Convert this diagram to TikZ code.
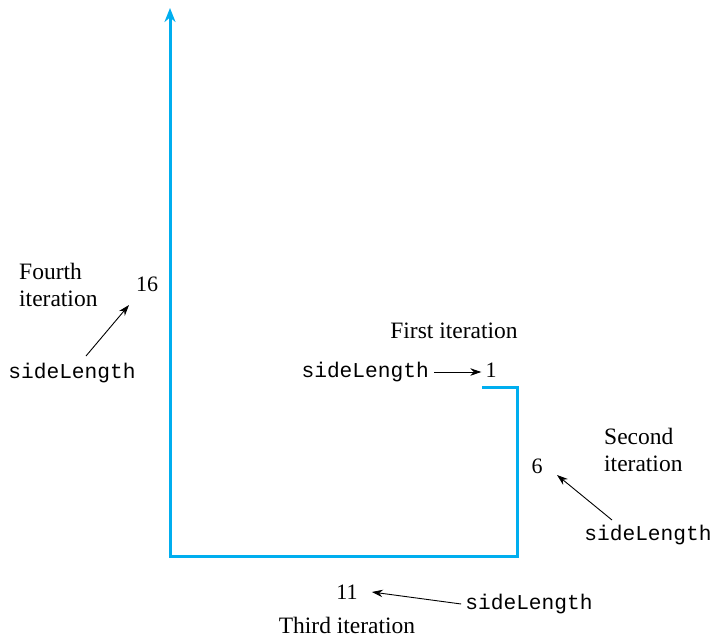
\documentclass[tikz,border=0pt]{standalone}
\usepackage{fontspec}
\setmainfont{Liberation Serif}
\setmonofont{Liberation Mono}
\usetikzlibrary{arrows.meta}
\definecolor{spiralblue}{RGB}{0,174,239}
\begin{document}
\begin{tikzpicture}[x=1pt,y=-1pt,
  lbl/.style={font=\fontsize{23.5}{27}\selectfont, inner sep=0pt},
  num/.style={font=\fontsize{22}{26}\selectfont, inner sep=0pt},
  var/.style={font=\fontsize{21.2}{25}\selectfont\ttfamily, inner sep=0pt},
  pointer/.style={-{Stealth[length=11pt,width=7.5pt]}, line width=0.9pt, black},
  spiral/.style={spiralblue, line width=3pt}
]
\useasboundingbox (0,0) rectangle (715,638);

% growing spiral path
\coordinate (s0) at (482,387);
\coordinate (s1) at (517,387);
\coordinate (s2) at (517,556);
\coordinate (s3) at (170,556);
\coordinate (s4) at (170,8);
\draw[spiral, -{Stealth[length=14pt,width=11pt]}] (s0) -- (s1) -- (s2) -- (s3) -- (s4);

% first iteration
\node[lbl] (t1) at (454,331) {First iteration};
\node[num] (n1) at (491,370) {1};
\node[var, anchor=east] (v1) at (429,372) {sideLength};
\coordinate (v1s) at ([xshift=5pt]v1.east);
\coordinate (n1w) at ([xshift=-4pt]v1s -| n1.west);
\draw[pointer] (v1s) -- (n1w);

% second iteration
\node[lbl, align=left, anchor=west] (t2) at (604,450) {Second\\iteration};
\node[num] (n2) at (537,466) {6};
\node[var] (v2) at (648,535) {sideLength};
\coordinate (v2s) at (612,520);
\coordinate (n2e) at (557,475);
\draw[pointer] (v2s) -- (n2e);

% third iteration
\node[num] (n3) at (347,592) {11};
\node[lbl] (t3) at (347,625) {Third iteration};
\node[var] (v3) at (529,604) {sideLength};
\coordinate (v3s) at ([xshift=-4pt]v3.west);
\coordinate (n3e) at ([xshift=14pt]n3.east);
\draw[pointer] (v3s) -- (n3e);

% fourth iteration
\node[lbl, align=left, anchor=west] (t4) at (19,285) {Fourth\\iteration};
\node[num] (n4) at (147,284) {16};
\node[var] (v4) at (72,373) {sideLength};
\coordinate (v4s) at (86,356);
\coordinate (n4e) at (129,305);
\draw[pointer] (v4s) -- (n4e);
\end{tikzpicture}
\end{document}
